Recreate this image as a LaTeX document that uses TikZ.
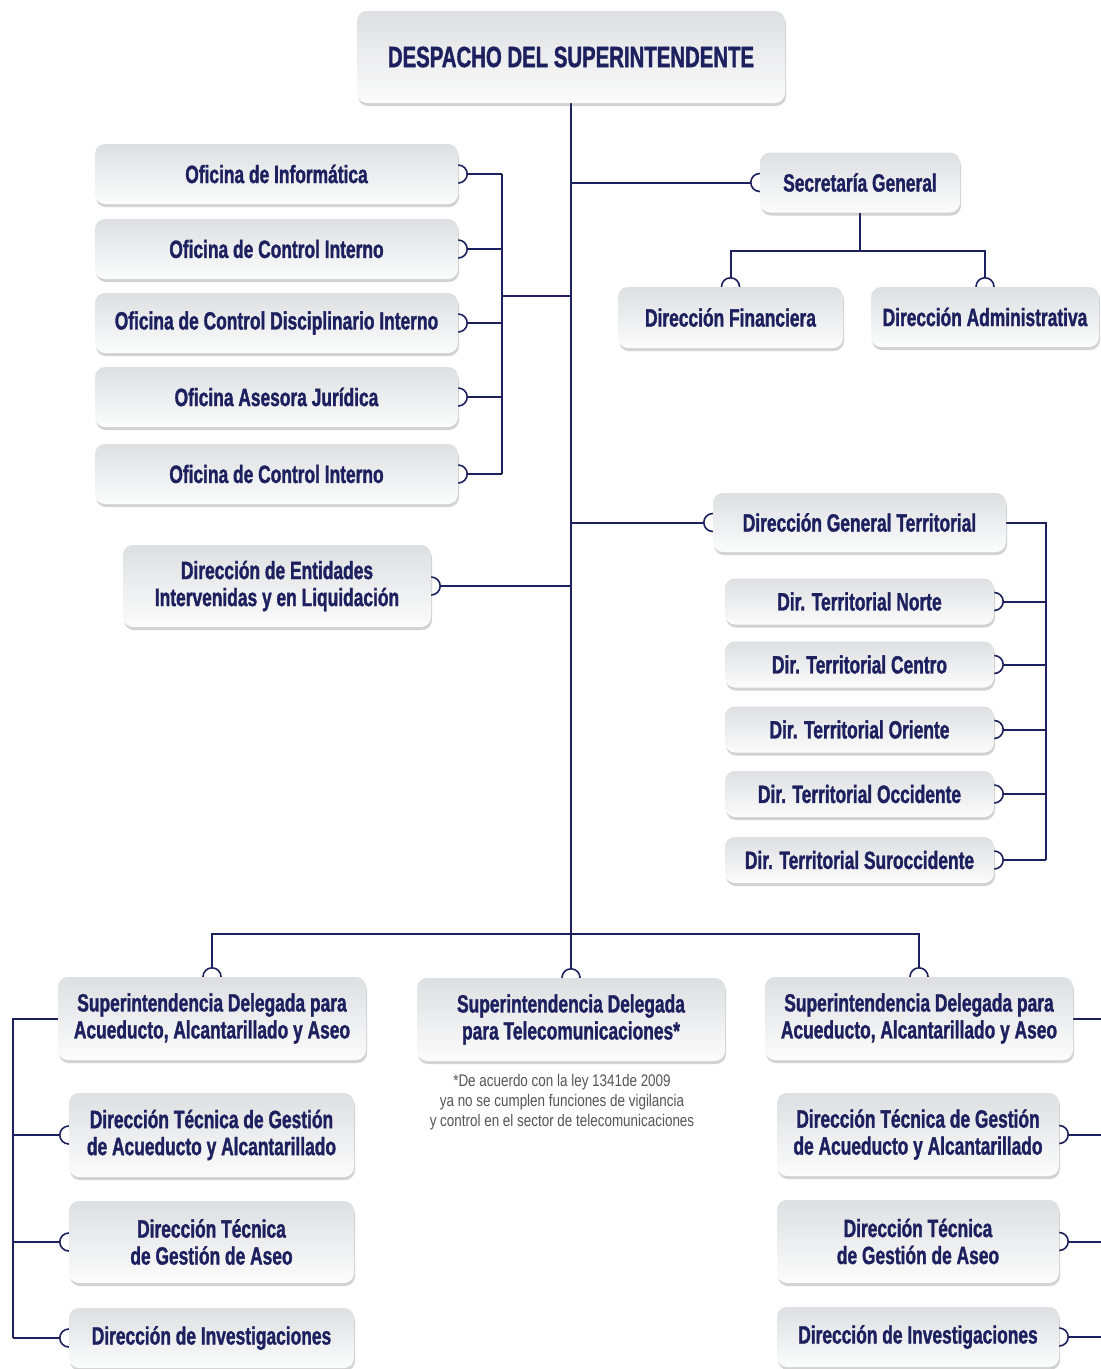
\documentclass[tikz,border=0pt]{standalone}
\usepackage{fontspec}
\newfontfamily\boxfont{Liberation Sans}[FakeStretch=0.695, BoldFeatures={FakeBold=1.3}]
\newfontfamily\notefont{Liberation Sans}[FakeStretch=0.80]
\usetikzlibrary{shadows,calc}
\definecolor{navy}{RGB}{28,32,94}
\definecolor{boxtop}{RGB}{222,223,226}
\definecolor{boxbot}{RGB}{252,252,252}
\definecolor{notegray}{RGB}{85,85,85}
\pgfdeclarelayer{bg}
\pgfsetlayers{bg,main}
\begin{document}
\begin{tikzpicture}[x=1pt,y=-1pt,
  box/.style={rounded corners=10pt, top color=boxtop, bottom color=boxbot, inner sep=0pt,
    align=center, text=navy, font=\boxfont\bfseries\fontsize{25}{27}\selectfont,
    drop shadow={shadow xshift=1pt, shadow yshift=-3pt, opacity=0.25, fill=black!70}},
  link/.style={draw=navy, line width=2pt},
  bump/.style={draw=navy, line width=1.6pt, fill=white},
]
\useasboundingbox (0,0) rectangle (1101,1369);

% top
\node[box, minimum width=428, minimum height=92, font=\boxfont\bfseries\fontsize{29.3}{32}\selectfont] (top) at (571,57) {DESPACHO DEL SUPERINTENDENTE};
\node[box, minimum width=200, minimum height=60] (sec) at (860,182.5) {Secretaría General};
\node[box, minimum width=225, minimum height=61] (fin) at (730.5,317.5) {Dirección Financiera};
\node[box, minimum width=228, minimum height=60] (adm) at (985,317) {Dirección Administrativa};

% offices
\node[box, minimum width=363, minimum height=60] (ofa) at (276.5,174) {Oficina de Informática};
\node[box, minimum width=363, minimum height=60] (ofb) at (276.5,249) {Oficina de Control Interno};
\node[box, minimum width=363, minimum height=60] (ofc) at (276.5,323) {Oficina de Control Disciplinario Interno};
\node[box, minimum width=363, minimum height=60] (ofd) at (276.5,397) {Oficina Asesora Jurídica};
\node[box, minimum width=363, minimum height=60] (ofe) at (276.5,474) {Oficina de Control Interno};
\node[box, minimum width=308, minimum height=82] (ent) at (277,586) {Dirección de Entidades\\Intervenidas y en Liquidación};

% territorial
\node[box, minimum width=293, minimum height=59] (dgt) at (859.5,522.5) {Dirección General Territorial};
\node[box, minimum width=269, minimum height=46] (tno) at (859.5,601.5) {Dir. Territorial Norte};
\node[box, minimum width=269, minimum height=46] (tce) at (859.5,664.5) {Dir. Territorial Centro};
\node[box, minimum width=269, minimum height=46] (tor) at (859.5,729.5) {Dir. Territorial Oriente};
\node[box, minimum width=269, minimum height=46] (toc) at (859.5,794) {Dir. Territorial Occidente};
\node[box, minimum width=269, minimum height=46] (tsu) at (859.5,860) {Dir. Territorial Suroccidente};

% delegadas
\node[box, minimum width=308, minimum height=83] (sdl) at (212,1018.5) {Superintendencia Delegada para\\Acueducto, Alcantarillado y Aseo};
\node[box, minimum width=308, minimum height=83] (sdt) at (571,1019.5) {Superintendencia Delegada\\para Telecomunicaciones*};
\node[box, minimum width=308, minimum height=83] (sdr) at (919,1018.5) {Superintendencia Delegada para\\Acueducto, Alcantarillado y Aseo};

\node[font=\notefont\fontsize{16.8}{20}\selectfont, text=notegray, align=center] (note) at (562,1102)
  {*De acuerdo con la ley 1341de 2009\\ya no se cumplen funciones de vigilancia\\y control en el sector de telecomunicaciones};

\node[box, minimum width=285, minimum height=84] (dtal) at (211.5,1135) {Dirección Técnica de Gestión\\de Acueducto y Alcantarillado};
\node[box, minimum width=285, minimum height=82] (dgal) at (211.5,1242) {Dirección Técnica\\de Gestión de Aseo};
\node[box, minimum width=285, minimum height=60] (inl) at (211.5,1338) {Dirección de Investigaciones};

\node[box, minimum width=282, minimum height=83] (dtar) at (918,1134.5) {Dirección Técnica de Gestión\\de Acueducto y Alcantarillado};
\node[box, minimum width=282, minimum height=83] (dgar) at (918,1241.5) {Dirección Técnica\\de Gestión de Aseo};
\node[box, minimum width=282, minimum height=60] (inr) at (918,1337) {Dirección de Investigaciones};

\coordinate (bus) at (571,934);
\coordinate (sb) at (860,251);
\coordinate (lb) at (502,296);
\coordinate (tb) at (1046,522);
\coordinate (lv) at (13,1018);
\coordinate (rv) at (1101,1018);

\begin{pgfonlayer}{bg}
\fill[white] (0,0) rectangle (1101,1369);
\draw[link] (top.south) -- ($(sdt.north)+(0,-9)$);
\draw[link] ($(sdl.north)+(0,-9)$) -- (sdl.north |- bus) -- (sdr.north |- bus) -- ($(sdr.north)+(0,-9)$);
\draw[link] (top.south |- sec.west) -- ($(sec.west)+(-9,0)$);
\draw[link] (sec.south) -- (sb);
\draw[link] ($(fin.north)+(0,-9)$) -- (fin.north |- sb) -- (adm.north |- sb) -- ($(adm.north)+(0,-9)$);
\foreach \n in {ofa,ofb,ofc,ofd,ofe} \draw[link] ($(\n.east)+(9,0)$) -- (\n.east -| lb);
\draw[link] (ofa.east -| lb) -- (ofe.east -| lb);
\draw[link] (lb) -- (lb -| top.south);
\draw[link] ($(ent.east)+(9,0)$) -- (ent.east -| top.south);
\draw[link] (dgt.west -| top.south) -- ($(dgt.west)+(-9,0)$);
\draw[link] (dgt.east) -- (dgt.east -| tb) -- (tsu.east -| tb);
\foreach \n in {tno,tce,tor,toc,tsu} \draw[link] ($(\n.east)+(9,0)$) -- (\n.east -| tb);
\draw[link] (sdl.west) -- (sdl.west -| lv) -- (inl.west -| lv);
\foreach \n in {dtal,dgal,inl} \draw[link] (\n.west -| lv) -- ($(\n.west)+(-9,0)$);
\draw[link] (sdr.east) -- (sdr.east -| rv);
\foreach \n in {dtar,dgar,inr} \draw[link] ($(\n.east)+(9,0)$) -- (\n.east -| rv);
\foreach \a in {sec.west,fin.north,adm.north,ofa.east,ofb.east,ofc.east,ofd.east,ofe.east,
  ent.east,dgt.west,tno.east,tce.east,tor.east,toc.east,tsu.east,sdl.north,sdt.north,sdr.north,
  dtal.west,dgal.west,inl.west,dtar.east,dgar.east,inr.east}
  \draw[bump] (\a) circle[radius=9];
\end{pgfonlayer}
\end{tikzpicture}
\end{document}
